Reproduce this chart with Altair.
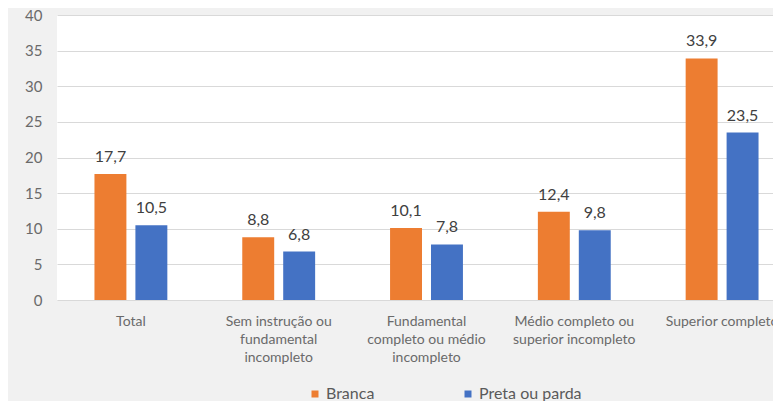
import altair as alt
import pandas as pd

categories = [
    "Total",
    "Sem instrução ou\nfundamental\nincompleto",
    "Fundamental\ncompleto ou médio\nincompleto",
    "Médio completo ou\nsuperior incompleto",
    "Superior completo",
]
series = ["Branca", "Preta ou parda"]
branca = [17.7, 8.8, 10.1, 12.4, 33.9]
preta = [10.5, 6.8, 7.8, 9.8, 23.5]
colors = ["#ED7D31", "#4472C4"]
y_ticks = [0, 5, 10, 15, 20, 25, 30, 35, 40]

rows = []
for c, b, p in zip(categories, branca, preta):
    rows.append({"cat": c, "grupo": series[0], "valor": b})
    rows.append({"cat": c, "grupo": series[1], "valor": p})
df = pd.DataFrame(rows)

FONT = "Lato"

x = alt.X(
    "cat:N",
    sort=categories,
    title=None,
    scale=alt.Scale(domain=categories, range=[0, 739], paddingInner=0, paddingOuter=0),
    axis=alt.Axis(
        labelAngle=0,
        labelExpr="split(datum.label, '\\n')",
        labelFontSize=14,
        labelLineHeight=18,
        labelColor="#6a6a6a",
        labelFont=FONT,
        labelPadding=14,
        labelBaseline="top",
        labelLimit=200,
        ticks=False,
        domain=False,
        grid=False,
    ),
)
xoff = alt.XOffset(
    "grupo:N",
    sort=series,
    scale=alt.Scale(domain=series, paddingInner=0.22, paddingOuter=0.915),
)
y = alt.Y(
    "valor:Q",
    title=None,
    scale=alt.Scale(domain=[0, 40], nice=False),
    axis=alt.Axis(
        values=y_ticks,
        labelFontSize=15,
        labelColor="#6a6a6a",
        labelFont=FONT,
        labelPadding=15,
        labelOverlap=False,
        ticks=False,
        domain=False,
        gridColor="#d9d9d9",
        gridWidth=1,
    ),
)

base = alt.Chart(df).encode(x=x, xOffset=xoff, y=y)

bars = base.mark_bar().encode(
    color=alt.Color(
        "grupo:N",
        sort=series,
        scale=alt.Scale(domain=series, range=colors),
        legend=alt.Legend(
            title=None,
            orient="none",
            legendX=250,
            legendY=371,
            direction="horizontal",
            symbolType="square",
            symbolSize=49,
            symbolStrokeWidth=0,
            labelFontSize=16,
            labelFont=FONT,
            labelColor="#5a5a5a",
            labelOffset=3,
            columnPadding=85,
            padding=0,
        ),
    ),
)

labels = base.transform_calculate(
    lbl="replace(format(datum.valor, '.1f'), '.', ',')"
).mark_text(
    baseline="bottom", dy=-9, fontSize=16, font=FONT, color="#404040"
).encode(text="lbl:N")

chart = (
    alt.layer(bars, labels)
    .properties(
        width=716,
        height=285,
        background="#f1f1f1",
        padding={"left": 49, "top": 7, "right": 0, "bottom": 101},
        autosize=alt.AutoSizeParams(type="none"),
    )
    .configure_view(fill="white", stroke=None)
)

chart.save("out.html", embed_options={"renderer": "svg", "actions": False})
